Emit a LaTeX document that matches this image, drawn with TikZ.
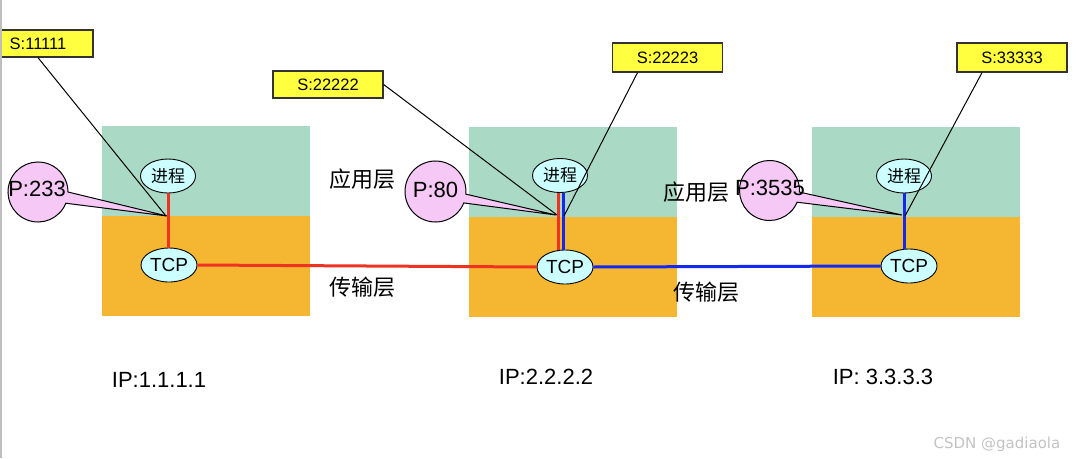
\documentclass[tikz,border=0pt]{standalone}
\usepackage{fontspec}
\setmainfont{Liberation Sans}
\newfontfamily\cjk{Noto Sans CJK SC}
\newfontfamily\wmfont{DejaVu Sans}
\usetikzlibrary{shapes.geometric}
\definecolor{appgreen}{RGB}{170,218,197}
\definecolor{tranorange}{RGB}{245,183,49}
\definecolor{labelyellow}{RGB}{255,255,64}
\definecolor{calloutpink}{RGB}{245,200,245}
\definecolor{proccyan}{RGB}{204,255,255}
\definecolor{linkred}{RGB}{238,51,34}
\definecolor{linkblue}{RGB}{20,40,240}
\definecolor{framegray}{RGB}{190,190,190}
\definecolor{wmgray}{RGB}{195,195,195}
\begin{document}
\begin{tikzpicture}[x=1pt,y=-1pt,
  appbox/.style={rectangle, draw=none, fill=appgreen, minimum width=208pt, minimum height=90pt, inner sep=0pt},
  tranbox/.style={rectangle, draw=none, fill=tranorange, minimum width=208pt, minimum height=100pt, inner sep=0pt},
  proc/.style={ellipse, draw=black, line width=0.9pt, fill=proccyan, minimum width=55pt, minimum height=34pt, inner sep=0pt, font=\cjk\fontsize{17}{17}\selectfont},
  tcp/.style={ellipse, draw=black, line width=0.9pt, fill=proccyan, minimum width=56pt, minimum height=34pt, inner sep=0pt, font=\fontsize{19}{19}\selectfont},
  sock/.style={rectangle, draw=black!80, line width=1.3pt, fill=labelyellow, minimum width=110pt, minimum height=27pt, inner sep=0pt, font=\fontsize{16.5}{16.5}\selectfont},
  layertext/.style={inner sep=0pt, font=\cjk\fontsize{22}{22}\selectfont},
  iptext/.style={inner sep=0pt, font=\fontsize{22}{22}\selectfont},
  porttext/.style={inner sep=0pt, font=\fontsize{22}{22}\selectfont},
  callout/.style={fill=calloutpink, draw=black, line width=1pt},
  pointer/.style={draw=black, line width=1pt},
  redlink/.style={draw=linkred, line width=3pt},
  bluelink/.style={draw=linkblue, line width=3pt}
]
\useasboundingbox (0,0) rectangle (1076,458);
\clip (0,0) rectangle (1076,458);
\fill[white] (0,0) rectangle (1076,458);

% layer blocks
\node[appbox] (app1) at (206,171) {};
\node[tranbox] (tra1) at (206,266) {};
\node[appbox] (app2) at (572.5,172) {};
\node[tranbox] (tra2) at (572.5,266.5) {};
\node[appbox] (app3) at (916,172) {};
\node[tranbox] (tra3) at (916,266.5) {};

% junction points
\coordinate (j1) at (166,216);
\coordinate (j2a) at (557,215);
\coordinate (j2b) at (564,216);
\coordinate (j3) at (905,216);

% callouts
\path[callout] (38,192) ++(22:30) arc[start angle=22, end angle=360, radius=30] -- (167,216) -- cycle;
\node[porttext] (port1) at (37,189) {P:233};
\path[callout] (435.5,191.5) ++(22:30.5) arc[start angle=22, end angle=365, radius=30.5] -- (556,215) -- cycle;
\node[porttext] (port2) at (435.5,189.5) {P:80};
\path[callout] (769.5,190.5) ++(23:30) arc[start angle=23, end angle=363, radius=30] -- (902,215) -- cycle;
\node[porttext] (port3) at (770,187.5) {P:3535};

% layer texts
\node[layertext] (al1) at (362,179) {应用层};
\node[layertext] (tl1) at (362,287) {传输层};
\node[layertext] (al2) at (696,192) {应用层};
\node[layertext] (tl2) at (706,292) {传输层};

% process and TCP ellipses
\node[proc] (p1) at (168,176) {进程};
\node[tcp] (t1) at (169,265) {TCP};
\node[proc] (p2) at (560,175.5) {进程};
\node[tcp] (t2) at (565,267) {TCP};
\node[proc] (p3) at (904,176) {进程};
\node[tcp] (t3) at (909,266) {TCP};

% links
\draw[redlink] (p1.south) -- (p1.south |- t1.north);
\draw[redlink] (t1.east) -- (t2.west);
\draw[redlink] ([xshift=-1.5pt]p2.south) -- ([xshift=-1.5pt]p2.south |- t2.north);
\draw[bluelink] ([xshift=3.5pt]p2.south) -- ([xshift=3.5pt]p2.south |- t2.north);
\draw[bluelink] (t2.east) -- (t3.west);
\draw[bluelink] (p3.south) -- (p3.south |- t3.north);

% socket labels
\node[sock] (s1) at (38,43.5) {S:11111};
\node[sock] (s2) at (328,84.5) {S:22222};
\node[sock, minimum height=29pt] (s3) at (667.5,57.5) {S:22223};
\node[sock, minimum height=29pt] (s4) at (1012,57.5) {S:33333};

\draw[pointer] (s1.south) -- (j1);
\draw[pointer] (s2.east) -- (j2a);
\draw[pointer] ([xshift=-30pt]s3.south) -- (j2b);
\draw[pointer] ([xshift=-30pt]s4.south) -- (j3);

% IP labels
\node[iptext] (ip1) at (159,380) {IP:1.1.1.1};
\node[iptext] (ip2) at (546,376.5) {IP:2.2.2.2};
\node[iptext] (ip3) at (883,376.5) {IP: 3.3.3.3};

% watermark and frame
\node[inner sep=0pt, anchor=base, text=wmgray, font=\wmfont\fontsize{15}{15}\selectfont] (wm) at (997,448) {CSDN @gadiaola};
\draw[framegray, line width=1.5pt] (0.75,0) -- (0.75,458);
\end{tikzpicture}
\end{document}
